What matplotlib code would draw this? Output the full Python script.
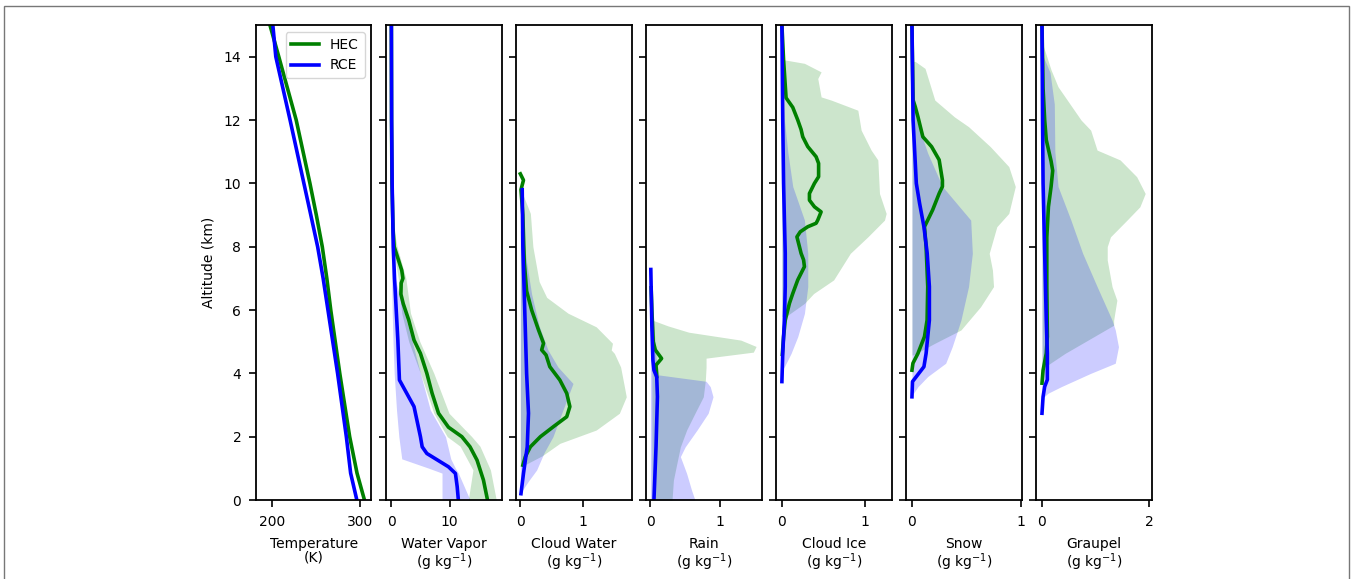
import matplotlib
matplotlib.use("Agg")
import matplotlib.pyplot as plt
from matplotlib.patches import Rectangle

HEC_COLOR = "green"
RCE_COLOR = "blue"

# Temperature (K)
temp_alt = [0, 0.85, 2, 4, 6, 7, 8, 9, 10, 12, 14, 15]
temp_hec = [305.5, 297, 288.6, 277.3, 267, 262.5, 257.3, 250.5, 243.2, 227.5, 207.6, 197.5]
temp_rce = [296.8, 289.7, 284.8, 274.8, 263.8, 258.3, 252, 244.2, 236.3, 220.5, 204.2, 200.8]

# Water vapor (g/kg)
wv_alt_hec = [0, 0.63, 1.26, 1.68, 2.0, 2.3, 2.74, 3.37, 4.0, 4.63, 5.05, 5.68, 6.2,
              6.5, 6.85, 7.0, 7.25, 7.6, 8.0, 8.6, 10, 12, 15]
wv_hec = [16.5, 15.8, 14.7, 13.5, 12.1, 9.8, 8.1, 7.0, 6.1, 5.0, 3.9, 3.0, 2.05,
          1.65, 1.7, 2.0, 1.8, 1.2, 0.5, 0.3, 0.12, 0.05, 0.02]
wv_alt_rce = [0, 0.42, 0.84, 1.05, 1.47, 1.68, 2.0, 2.95, 3.79, 5.05, 6, 7, 8, 10, 12, 15]
wv_rce = [11.5, 11.3, 11.0, 9.8, 6.1, 5.3, 5.0, 3.9, 1.4, 1.13, 0.85, 0.56, 0.34, 0.15, 0.06, 0.02]
wv_fill_alt_hec = [0, 0.95, 1.7, 2.0, 2.74, 4.0, 5.0, 5.9, 7.0, 8.0, 8.8]
wv_lo_hec = [13.2, 14.0, 11.8, 9.6, 7.3, 5.0, 3.0, 1.8, 1.2, 0.3, 0.1]
wv_hi_hec = [18.0, 17.0, 15.2, 13.8, 9.9, 7.3, 4.9, 3.3, 2.5, 1.0, 0.2]
wv_fill_alt_rce = [0, 0.85, 1.0, 1.3, 2.0, 2.84, 4.0, 5.0, 6.0, 7.1, 8.0, 9.0]
wv_lo_rce = [8.7, 8.7, 6.5, 1.8, 1.3, 0.9, 0.5, 0.3, 0.15, 0.05, 0.0, 0.0]
wv_hi_rce = [13.5, 11.5, 11.0, 10.2, 9.3, 6.7, 5.0, 3.6, 2.1, 0.5, 0.2, 0.05]

# Cloud water (g/kg)
cw_alt_hec = [1.1, 1.37, 1.68, 2.0, 2.32, 2.63, 2.95, 3.37, 3.79, 4.21, 4.58, 4.74,
              4.95, 5.37, 6.0, 6.6, 7.5, 9.0, 9.8, 10.1, 10.3]
cw_hec = [0.04, 0.08, 0.16, 0.32, 0.53, 0.74, 0.79, 0.74, 0.63, 0.47, 0.41, 0.34,
          0.37, 0.29, 0.18, 0.1, 0.063, 0.04, 0.01, 0.05, 0.0]
cw_alt_rce = [0.2, 0.84, 1.68, 2.74, 4.0, 6.0, 8.0, 9.8]
cw_rce = [0.01, 0.05, 0.11, 0.13, 0.1, 0.07, 0.04, 0.03]
cw_fill_alt_hec = [1.1, 1.4, 1.79, 2.21, 2.74, 3.26, 3.58, 4.2, 4.63, 4.74, 4.95,
                   5.47, 5.9, 6.4, 6.9, 8.0, 9.05, 9.6]
cw_hi_hec = [0.06, 0.35, 0.63, 1.21, 1.58, 1.69, 1.66, 1.6, 1.5, 1.45, 1.47,
             1.21, 0.76, 0.42, 0.3, 0.2, 0.16, 0.05]
cw_fill_alt_rce = [0.3, 0.6, 0.95, 1.5, 2.0, 2.74, 3.68, 4.2, 4.74, 5.5, 6.5, 7.5, 8.5]
cw_hi_rce = [0.03, 0.13, 0.26, 0.38, 0.52, 0.66, 0.84, 0.6, 0.44, 0.3, 0.18, 0.1, 0.04]

# Rain (g/kg)
rain_alt_hec = [3.9, 4.26, 4.47, 4.74, 5.0, 6.0, 6.7]
rain_hec = [0.09, 0.08, 0.16, 0.07, 0.04, 0.02, 0.01]
rain_alt_rce = [0.0, 1.68, 3.26, 3.89, 4.1, 4.42, 5.5, 7.28]
rain_rce = [0.05, 0.08, 0.10, 0.09, 0.05, 0.035, 0.02, 0.005]
rain_fill_alt_hec = [0, 0.63, 1.16, 1.68, 2.21, 2.74, 3.26, 3.79, 4.2, 4.48, 4.67,
                     4.85, 5.05, 5.3, 5.5, 5.68]
rain_hi_hec = [0.31, 0.33, 0.38, 0.43, 0.52, 0.64, 0.76, 0.79, 0.8, 0.8, 1.48,
               1.52, 1.3, 0.55, 0.25, 0.03]
rain_fill_alt_rce = [0, 0.32, 0.84, 1.37, 1.68, 2.21, 2.74, 3.26, 3.58, 3.75, 3.95,
                     4.5, 5.5, 6.5, 7.2]
rain_hi_rce = [0.64, 0.59, 0.52, 0.43, 0.5, 0.67, 0.83, 0.9, 0.86, 0.8, 0.12,
               0.08, 0.05, 0.03, 0.01]

# Cloud ice (g/kg)
ice_alt_hec = [4.6, 5.16, 5.68, 5.89, 6.21, 6.52, 6.95, 7.16, 7.37, 7.58, 7.79, 8.0,
               8.31, 8.47, 8.63, 8.74, 8.84, 9.1, 9.26, 9.47, 9.68, 10.0, 10.21,
               10.63, 10.84, 11.16, 11.47, 11.7, 12.0, 12.4, 12.7, 13.9, 15.0]
ice_hec = [0.005, 0.02, 0.04, 0.06, 0.09, 0.13, 0.19, 0.23, 0.27, 0.26, 0.23, 0.21,
           0.18, 0.22, 0.31, 0.41, 0.43, 0.47, 0.39, 0.33, 0.33, 0.39, 0.44,
           0.44, 0.41, 0.31, 0.25, 0.23, 0.19, 0.13, 0.05, 0.02, 0.0]
ice_alt_rce = [3.74, 4.63, 5.68, 6.74, 7.79, 8.84, 10.0, 12.0, 15.0]
ice_rce = [0.0, 0.01, 0.03, 0.04, 0.04, 0.03, 0.02, 0.01, 0.0]
ice_fill_alt_hec = [5.8, 6.21, 6.52, 6.95, 7.79, 8.31, 8.84, 9.05, 9.68, 10.74,
                    11.05, 11.68, 12.0, 12.31, 12.63, 12.73, 13.31, 13.52, 13.79, 13.9]
ice_hi_hec = [0.05, 0.27, 0.38, 0.62, 0.82, 1.03, 1.23, 1.25, 1.17, 1.15,
              1.07, 0.95, 0.93, 0.91, 0.59, 0.47, 0.43, 0.47, 0.27, 0.03]
ice_fill_alt_rce = [4.1, 4.21, 4.63, 5.16, 5.89, 6.74, 7.79, 8.84, 9.9, 11.0, 12.0, 13.0]
ice_hi_rce = [0.0, 0.03, 0.11, 0.19, 0.27, 0.31, 0.31, 0.27, 0.13, 0.07, 0.03, 0.01]

# Snow (g/kg)
snow_alt_hec = [4.1, 4.32, 4.63, 5.16, 5.68, 6.74, 8.0, 8.63, 8.84, 9.16, 9.68, 9.9,
                10.1, 10.74, 11.16, 11.47, 12.1, 12.42, 12.63, 15.0]
snow_hec = [0.0, 0.009, 0.055, 0.115, 0.139, 0.145, 0.13, 0.115, 0.145, 0.19, 0.25, 0.28,
            0.28, 0.25, 0.18, 0.1, 0.055, 0.03, 0.01, 0.0]
snow_alt_rce = [3.26, 3.74, 4.21, 4.63, 5.68, 6.74, 7.79, 8.63, 9.37, 10.0, 12.0, 15.0]
snow_rce = [0.0, 0.005, 0.11, 0.13, 0.16, 0.16, 0.14, 0.11, 0.07, 0.04, 0.01, 0.0]
snow_fill_alt_hec = [4.58, 4.95, 5.37, 6.1, 6.74, 7.26, 7.79, 8.63, 9.05, 9.9, 10.53,
                     11.16, 11.79, 12.1, 12.63, 13.63, 13.85]
snow_hi_hec = [0.01, 0.21, 0.45, 0.63, 0.75, 0.74, 0.71, 0.78, 0.89, 0.95, 0.89,
               0.72, 0.52, 0.39, 0.21, 0.12, 0.03]
snow_fill_alt_rce = [3.3, 3.58, 3.9, 4.32, 4.84, 5.68, 6.74, 7.79, 8.84, 9.9, 10.95,
                     12.0, 13.0, 13.8]
snow_hi_rce = [0.0, 0.055, 0.145, 0.31, 0.37, 0.45, 0.52, 0.555, 0.54, 0.28, 0.145,
               0.04, 0.015, 0.0]

# Graupel (g/kg)
grau_alt_hec = [3.69, 4.1, 4.63, 5.16, 6.74, 8.3, 9.26, 9.9, 10.4, 10.7, 11.37, 12.0, 13.0, 15.0]
grau_hec = [0.0, 0.02, 0.08, 0.1, 0.09, 0.09, 0.12, 0.17, 0.2, 0.17, 0.08, 0.05, 0.02, 0.0]
grau_alt_rce = [2.74, 3.26, 3.58, 3.8, 4.63, 5.68, 7.79, 10.0, 12.0, 15.0]
grau_rce = [0.0, 0.02, 0.05, 0.1, 0.1, 0.08, 0.05, 0.02, 0.01, 0.0]
grau_fill_alt_hec = [4.2, 4.63, 5.05, 5.52, 5.68, 6.31, 6.74, 7.58, 8.0, 8.31, 8.84,
                     9.26, 9.68, 10.21, 10.74, 11.05, 11.68, 12.0, 13.05, 13.58, 14.31]
grau_hi_hec = [0.05, 0.43, 0.86, 1.34, 1.34, 1.4, 1.31, 1.22, 1.22, 1.28, 1.59,
               1.83, 1.93, 1.77, 1.46, 1.03, 0.91, 0.73, 0.3, 0.17, 0.03]
grau_fill_alt_rce = [3.2, 3.37, 3.58, 4.0, 4.32, 4.84, 5.37, 5.68, 6.74, 7.79, 8.84,
                     9.9, 11.0, 12.5, 13.5, 14.1]
grau_hi_rce = [0.0, 0.11, 0.36, 0.91, 1.37, 1.43, 1.37, 1.31, 1.03, 0.76, 0.54,
               0.3, 0.24, 0.23, 0.15, 0.0]

xlabels = ["Temperature\n(K)", "Water Vapor\n(g kg$^{-1}$)", "Cloud Water\n(g kg$^{-1}$)",
           "Rain\n(g kg$^{-1}$)", "Cloud Ice\n(g kg$^{-1}$)", "Snow\n(g kg$^{-1}$)",
           "Graupel\n(g kg$^{-1}$)"]
xlims = [(181.5, 313.5), (-0.9, 18.9), (-0.068, 1.775), (-0.062, 1.6),
         (-0.068, 1.317), (-0.052, 1.01), (-0.105, 2.055)]
xticks = [[200, 300], [0, 10], [0, 1], [0, 1], [0, 1], [0, 1], [0, 2]]

plt.rcParams["font.size"] = 10
plt.rcParams["axes.linewidth"] = 1.3
plt.rcParams["xtick.major.size"] = 5
plt.rcParams["ytick.major.size"] = 5
plt.rcParams["xtick.major.width"] = 1.2
plt.rcParams["ytick.major.width"] = 1.2
plt.rcParams["xtick.major.pad"] = 5.5
plt.rcParams["ytick.major.pad"] = 5.5

fig, axes = plt.subplots(1, 7, figsize=(13.52, 5.79), dpi=100, sharey=True)
fig.subplots_adjust(left=0.1893, right=0.852, bottom=0.1364, top=0.9568, wspace=0.126)


def zeros(n):
    return [0.0] * n


def shade(ax, alt, lo, hi, color):
    ax.fill_betweenx(alt, lo, hi, color=color, alpha=0.2, linewidth=0)


# fills (HEC first, RCE on top)
shade(axes[1], wv_fill_alt_hec, wv_lo_hec, wv_hi_hec, HEC_COLOR)
shade(axes[1], wv_fill_alt_rce, wv_lo_rce, wv_hi_rce, RCE_COLOR)
shade(axes[2], cw_fill_alt_hec, zeros(len(cw_hi_hec)), cw_hi_hec, HEC_COLOR)
shade(axes[2], cw_fill_alt_rce, zeros(len(cw_hi_rce)), cw_hi_rce, RCE_COLOR)
shade(axes[3], rain_fill_alt_hec, [0.02] * len(rain_hi_hec), rain_hi_hec, HEC_COLOR)
shade(axes[3], rain_fill_alt_rce, zeros(len(rain_hi_rce)), rain_hi_rce, RCE_COLOR)
shade(axes[4], ice_fill_alt_hec, zeros(len(ice_hi_hec)), ice_hi_hec, HEC_COLOR)
shade(axes[4], ice_fill_alt_rce, zeros(len(ice_hi_rce)), ice_hi_rce, RCE_COLOR)
shade(axes[5], snow_fill_alt_hec, zeros(len(snow_hi_hec)), snow_hi_hec, HEC_COLOR)
shade(axes[5], snow_fill_alt_rce, zeros(len(snow_hi_rce)), snow_hi_rce, RCE_COLOR)
shade(axes[6], grau_fill_alt_hec, zeros(len(grau_hi_hec)), grau_hi_hec, HEC_COLOR)
shade(axes[6], grau_fill_alt_rce, zeros(len(grau_hi_rce)), grau_hi_rce, RCE_COLOR)

lines = [
    (temp_alt, temp_hec, temp_alt, temp_rce),
    (wv_alt_hec, wv_hec, wv_alt_rce, wv_rce),
    (cw_alt_hec, cw_hec, cw_alt_rce, cw_rce),
    (rain_alt_hec, rain_hec, rain_alt_rce, rain_rce),
    (ice_alt_hec, ice_hec, ice_alt_rce, ice_rce),
    (snow_alt_hec, snow_hec, snow_alt_rce, snow_rce),
    (grau_alt_hec, grau_hec, grau_alt_rce, grau_rce),
]

for i, ax in enumerate(axes):
    a_h, v_h, a_r, v_r = lines[i]
    ax.plot(v_h, a_h, color=HEC_COLOR, lw=2.6, label="HEC")
    ax.plot(v_r, a_r, color=RCE_COLOR, lw=2.6, label="RCE")
    ax.set_xlim(xlims[i])
    ax.set_xticks(xticks[i])
    ax.set_xlabel(xlabels[i], linespacing=1.0, labelpad=6)
    ax.set_ylim(0, 15)
    ax.set_yticks(range(0, 15, 2))

axes[0].set_ylabel("Altitude (km)", labelpad=6)
axes[0].legend(loc="upper right")

# grey frame around the figure
fig.patches.append(Rectangle((4 / 1352, -0.02), 1345 / 1352, 1.02 - 6 / 579,
                             transform=fig.transFigure, fill=False,
                             edgecolor="#777777", linewidth=1.0))

fig.savefig("out.png", dpi=100)
